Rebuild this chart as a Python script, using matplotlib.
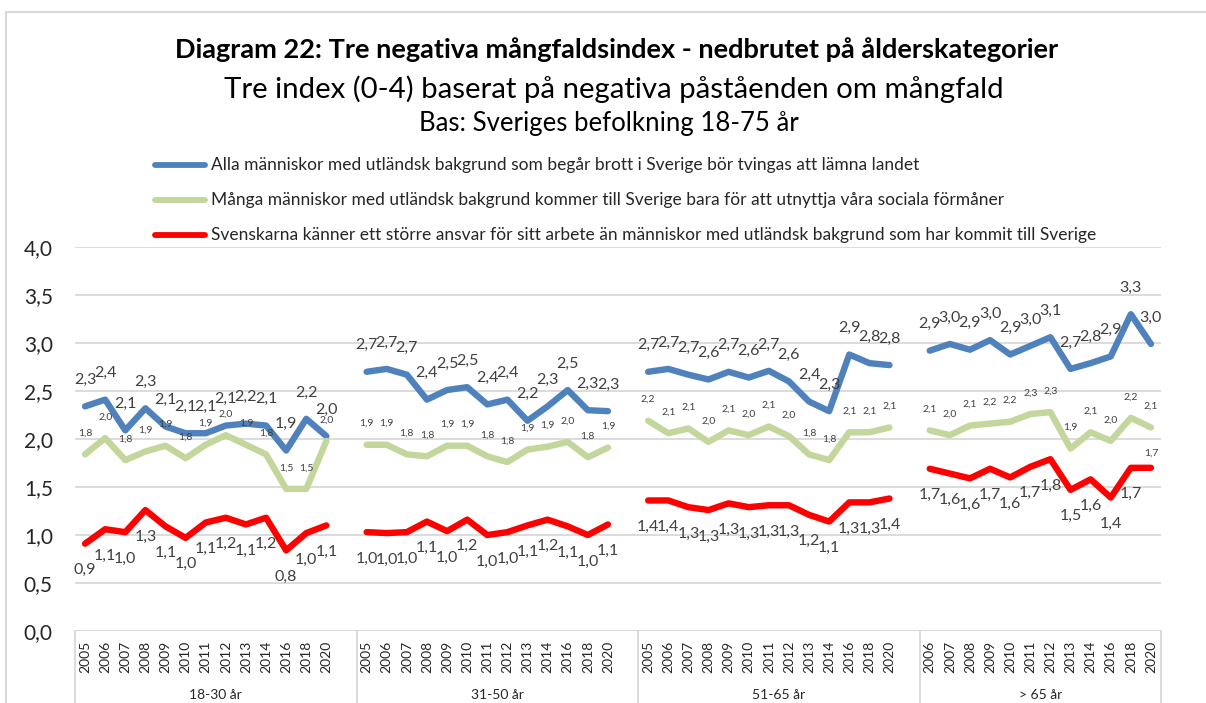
import matplotlib.pyplot as plt
from matplotlib.lines import Line2D
from matplotlib.patches import Rectangle
import matplotlib.transforms as mtransforms
import numpy as np

plt.rcParams['font.family'] = ['Lato', 'DejaVu Sans']

# age groups and the years in each one
groups = ['18-30 år', '31-50 år', '51-65 år', '> 65 år']
years_a = ['2005', '2006', '2007', '2008', '2009', '2010', '2011', '2012', '2013', '2014', '2016', '2018', '2020']
years_b = ['2006', '2007', '2008', '2009', '2010', '2011', '2012', '2013', '2014', '2016', '2018', '2020']
group_years = [years_a, years_a, years_a, years_b]
group_slots = [14, 14, 14, 12]  # excel leaves one empty category after the first three groups

series_names = [
    'Alla människor med utländsk bakgrund som begår brott i Sverige bör tvingas att lämna landet',
    'Många människor med utländsk bakgrund kommer till Sverige bara för att utnyttja våra sociala förmåner',
    'Svenskarna känner ett större ansvar för sitt arbete än människor med utländsk bakgrund som har kommit till Sverige',
]

# blue: brott -> lämna landet
blue = [
    [2.34, 2.41, 2.09, 2.32, 2.13, 2.06, 2.06, 2.14, 2.16, 2.14, 1.88, 2.21, 2.03],
    [2.70, 2.73, 2.67, 2.41, 2.51, 2.54, 2.36, 2.41, 2.19, 2.34, 2.51, 2.30, 2.29],
    [2.70, 2.73, 2.67, 2.62, 2.70, 2.64, 2.71, 2.60, 2.39, 2.29, 2.88, 2.79, 2.77],
    [2.92, 2.99, 2.93, 3.03, 2.88, 2.97, 3.06, 2.73, 2.79, 2.86, 3.30, 2.99],
]
# green: sociala förmåner
green = [
    [1.84, 2.01, 1.78, 1.87, 1.93, 1.80, 1.94, 2.04, 1.94, 1.84, 1.48, 1.48, 1.98],
    [1.94, 1.94, 1.84, 1.82, 1.93, 1.93, 1.82, 1.76, 1.89, 1.92, 1.97, 1.81, 1.91],
    [2.19, 2.06, 2.11, 1.97, 2.09, 2.04, 2.13, 2.03, 1.84, 1.78, 2.07, 2.07, 2.12],
    [2.09, 2.04, 2.14, 2.16, 2.18, 2.26, 2.28, 1.90, 2.07, 1.98, 2.22, 2.12],
]
# red: större ansvar
red = [
    [0.91, 1.06, 1.03, 1.26, 1.09, 0.97, 1.13, 1.18, 1.11, 1.18, 0.84, 1.02, 1.10],
    [1.03, 1.02, 1.03, 1.14, 1.04, 1.16, 1.00, 1.03, 1.10, 1.16, 1.09, 1.00, 1.11],
    [1.36, 1.36, 1.29, 1.26, 1.33, 1.29, 1.31, 1.31, 1.21, 1.14, 1.34, 1.34, 1.38],
    [1.69, 1.64, 1.59, 1.69, 1.60, 1.71, 1.79, 1.47, 1.58, 1.39, 1.70, 1.70],
]

colors = ['#4f81bd', '#c3d69b', '#ff0000']

W, H = 1206, 703
fig = plt.figure(figsize=(W / 100, H / 100), dpi=100)
ax = fig.add_axes([75 / W, 1 - 631 / H, (1161 - 75) / W, (631 - 247) / H])

def lbl(v):
    return f'{v:.1f}'.replace('.', ',')

start = 0
bounds = [-0.5]
for g in range(4):
    xs = np.arange(len(group_years[g])) + start
    for s, (data, col) in enumerate(zip([blue, green, red], colors)):
        vals = data[g]
        ax.plot(xs, vals, color=col, lw=4.6, solid_capstyle='round',
                solid_joinstyle='round', zorder=3)
        for k, (x, v) in enumerate(zip(xs, vals)):
            if s == 0:
                ax.annotate(lbl(v), (x, v), xytext=(0, 14), textcoords='offset points',
                            ha='center', va='bottom', fontsize=11.5, color='#404040')
            elif s == 1:
                ax.annotate(lbl(v), (x, v), xytext=(0, 12), textcoords='offset points',
                            ha='center', va='bottom', fontsize=7.5, color='#404040')
            elif g == 3 and k == len(vals) - 1:
                # excel put this one small and above the line
                ax.annotate(lbl(v), (x, v), xytext=(0, 7), textcoords='offset points',
                            ha='center', va='bottom', fontsize=7.5, color='#404040')
            else:
                ax.annotate(lbl(v), (x, v), xytext=(0, -14), textcoords='offset points',
                            ha='center', va='top', fontsize=11.5, color='#404040')
    # year labels
    for x, yr in zip(xs, group_years[g]):
        ax.text(x, -0.1, yr, rotation=90, ha='center', va='top', fontsize=10,
                color='#262626')
    ax.text(start + (len(group_years[g]) - 1) / 2 + (0.5 if group_slots[g] == 14 else 0),
            -0.67, groups[g], ha='center', va='center', fontsize=10, color='#262626')
    start += group_slots[g]
    bounds.append(start - 0.5)

ax.set_xlim(-0.5, start - 0.5)
ax.set_ylim(0, 4)
ax.set_yticks(np.arange(0, 4.01, 0.5))
ax.set_yticklabels([lbl(v) for v in np.arange(0, 4.01, 0.5)], fontsize=15, color='#262626')
ax.tick_params(axis='y', length=0, pad=16)
ax.set_xticks([])
ax.grid(axis='y', color='#d9d9d9', lw=1.3)
ax.set_axisbelow(True)
for sp in ax.spines.values():
    sp.set_visible(False)
ax.axhline(0, color='#d9d9d9', lw=1.3, zorder=1)

# vertical separators of the category box
trans = mtransforms.blended_transform_factory(ax.transData, ax.transAxes)
for b in bounds:
    ax.add_line(Line2D([b, b], [0, -0.25], transform=trans, color='#d9d9d9',
                       lw=1.3, clip_on=False))

# titles
fig.text(0.511, 1 - 50 / H, 'Diagram 22: Tre negativa mångfaldsindex - nedbrutet på ålderskategorier',
         ha='center', va='center', fontsize=19.5, fontweight='bold', color='black')
fig.text(0.509, 1 - 89 / H, 'Tre index (0-4) baserat på negativa påståenden om mångfald',
         ha='center', va='center', fontsize=21.2, color='black')
fig.text(0.505, 1 - 124 / H, 'Bas: Sveriges befolkning 18-75 år',
         ha='center', va='center', fontsize=18.5, color='black')

# legend drawn by hand
for i, (name, col) in enumerate(zip(series_names, colors)):
    yy = 1 - (165 + 35 * i) / H
    fig.add_artist(Line2D([155 / W, 205 / W], [yy, yy], color=col, lw=4.2,
                          solid_capstyle='round'))
    fig.text(211 / W, yy, name, ha='left', va='center', fontsize=12.5, color='#262626')

# chart frame
fig.add_artist(Rectangle((6 / W, -0.05), 1.2, 1 - 12 / H + 0.05, fill=False,
                         edgecolor='#d9d9d9', lw=1.5))

fig.savefig('out.png', dpi=100)
